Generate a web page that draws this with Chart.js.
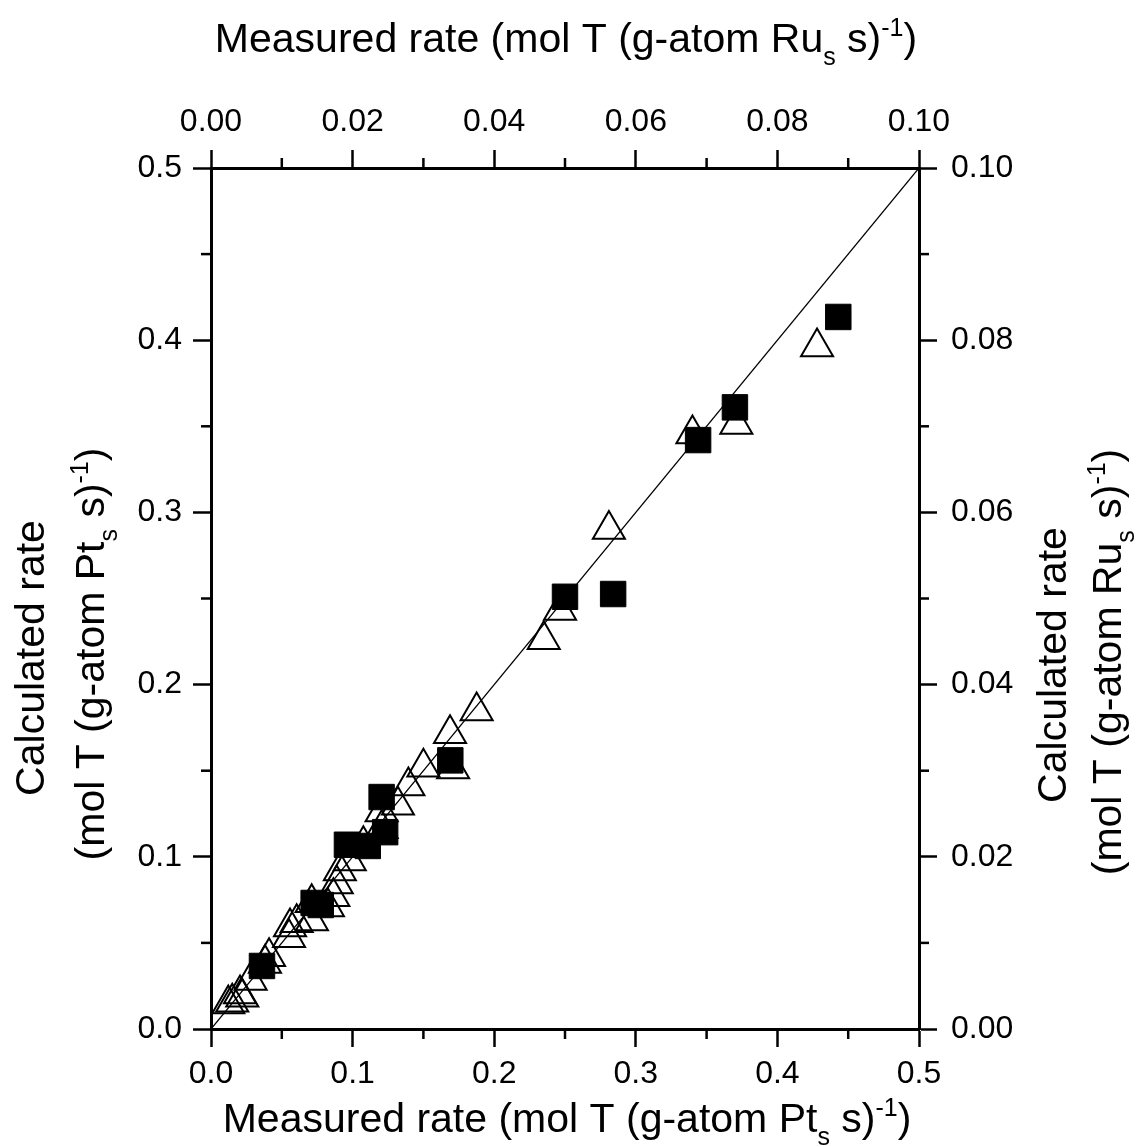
<!DOCTYPE html>
<html>
<head>
<meta charset="utf-8">
<script src="https://cdn.jsdelivr.net/npm/chart.js@4.4.1/dist/chart.umd.min.js"></script>
<style>
  html, body { margin: 0; padding: 0; background: #fff; }
  #wrap { width: 1142px; height: 1147px; position: relative; }
</style>
</head>
<body>
<div id="wrap"><canvas id="parity"></canvas></div>
<script>
// open triangles
const triMeasured = [0.428, 0.371, 0.340, 0.281, 0.2465, 0.235, 0.1876, 0.1688, 0.150, 0.171,
    0.1394, 0.132, 0.1205, 0.1205, 0.1076, 0.098, 0.091, 0.0888, 0.0864, 0.0826,
    0.0711, 0.0713, 0.0605, 0.0558, 0.0551, 0.0381, 0.041, 0.028, 0.0205, 0.0221,
    0.015, 0.0122];
const triCalculated = [0.396, 0.351, 0.3455, 0.290, 0.243, 0.226, 0.1847, 0.1715, 0.152, 0.151,
    0.1411, 0.130, 0.126, 0.1163, 0.107, 0.0976, 0.0918, 0.0842, 0.0768, 0.0708,
    0.0733, 0.0627, 0.0617, 0.0592, 0.053, 0.0381, 0.042, 0.0281, 0.0203, 0.0184,
    0.0155, 0.0145];

// filled squares
const sqMeasured = [0.443, 0.370, 0.344, 0.250, 0.284, 0.169, 0.1205, 0.096, 0.1107, 0.123,
    0.0725, 0.0775, 0.036];
const sqCalculated = [0.4135, 0.361, 0.342, 0.251, 0.2526, 0.156, 0.1347, 0.107, 0.1063, 0.1143,
    0.0732, 0.072, 0.0366];

// parity line
const parityLine = [0, 0.5];

const FONT = "'Liberation Sans', Arial, sans-serif";
const TICK_SIZE = 32;
const TITLE_SIZE = 41;
const MAJOR = 18;
const MINOR = 10;

const toPoints = (xs, ys) => xs.map((x, i) => ({ x: x, y: ys[i] }));

function richWidth(ctx, parts, size) {
    let w = 0;
    parts.forEach(p => {
        ctx.font = Math.round((p.sub || p.sup) ? size * 0.6 : size) + 'px ' + FONT;
        w += ctx.measureText(p.t).width;
    });
    return w;
}

// draws text with sub/superscripts, centred on (0, 0) baseline
function drawRich(ctx, parts, size) {
    let x = -richWidth(ctx, parts, size) / 2;
    ctx.textAlign = 'left';
    ctx.textBaseline = 'alphabetic';
    parts.forEach(p => {
        ctx.font = Math.round((p.sub || p.sup) ? size * 0.6 : size) + 'px ' + FONT;
        const dy = p.sub ? size * 0.32 : p.sup ? -size * 0.4 : 0;
        ctx.fillText(p.t, x, dy);
        x += ctx.measureText(p.t).width;
    });
}

const unitPt = [{ t: '(mol T (g-atom Pt' }, { t: 's', sub: true }, { t: ' s)' }, { t: '-1', sup: true }, { t: ')' }];
const unitRu = [{ t: '(mol T (g-atom Ru' }, { t: 's', sub: true }, { t: ' s)' }, { t: '-1', sup: true }, { t: ')' }];

const titles = [
    { parts: [{ t: 'Measured rate ' }].concat(unitRu), x: 566, y: 52, rot: 0 },
    { parts: [{ t: 'Measured rate ' }].concat(unitPt), x: 567, y: 1132, rot: 0 },
    { parts: [{ t: 'Calculated rate' }], x: 44, y: 658, rot: -Math.PI / 2 },
    { parts: unitPt, x: 104, y: 654, rot: -Math.PI / 2 },
    { parts: [{ t: 'Calculated rate' }], x: 1066, y: 665, rot: -Math.PI / 2 },
    { parts: unitRu, x: 1121, y: 662, rot: -Math.PI / 2 }
];

const axisDecor = {
    id: 'axisDecor',
    afterDraw(chart) {
        const ctx = chart.ctx;
        const area = chart.chartArea;
        ctx.save();
        ctx.strokeStyle = '#000';
        ctx.lineWidth = 2.5;
        // minor ticks half way between major ones
        ['x', 'x2', 'y', 'y2'].forEach(id => {
            const s = chart.scales[id];
            const t = s.ticks;
            for (let i = 0; i < t.length - 1; i++) {
                const p = s.getPixelForValue((t[i].value + t[i + 1].value) / 2);
                ctx.beginPath();
                if (id === 'x') { ctx.moveTo(p, area.bottom); ctx.lineTo(p, area.bottom + MINOR); }
                if (id === 'x2') { ctx.moveTo(p, area.top); ctx.lineTo(p, area.top - MINOR); }
                if (id === 'y') { ctx.moveTo(area.left, p); ctx.lineTo(area.left - MINOR, p); }
                if (id === 'y2') { ctx.moveTo(area.right, p); ctx.lineTo(area.right + MINOR, p); }
                ctx.stroke();
            }
        });
        ctx.fillStyle = '#000';
        titles.forEach(tt => {
            ctx.save();
            ctx.translate(tt.x, tt.y);
            ctx.rotate(tt.rot);
            drawRich(ctx, tt.parts, TITLE_SIZE);
            ctx.restore();
        });
        ctx.restore();
    }
};

function axis(position, max, step, digits, size, pad) {
    const horizontal = position === 'top' || position === 'bottom';
    return {
        type: 'linear',
        position: position,
        min: 0,
        max: max,
        ticks: {
            stepSize: step,
            color: '#000',
            font: { family: FONT, size: TICK_SIZE },
            padding: pad,
            maxRotation: 0,
            callback: v => v.toFixed(digits)
        },
        grid: { drawOnChartArea: false, drawTicks: true, tickLength: MAJOR, tickWidth: 2.5, color: '#000' },
        border: { display: true, width: 3, color: '#000' },
        title: { display: false },
        afterFit(s) {
            if (horizontal) s.height = size; else s.width = size;
        }
    };
}

new Chart(document.getElementById('parity'), {
    type: 'scatter',
    data: {
        datasets: [
            {
                label: 'squares',
                data: toPoints(sqMeasured, sqCalculated),
                pointStyle: 'rect',
                pointRadius: 18,
                backgroundColor: '#000',
                borderColor: '#000',
                borderWidth: 1
            },
            {
                type: 'line',
                label: 'parity',
                data: toPoints(parityLine, parityLine),
                borderColor: '#000',
                borderWidth: 1.3,
                pointRadius: 0,
                fill: false
            },
            {
                label: 'triangles',
                data: toPoints(triMeasured, triCalculated),
                pointStyle: 'triangle',
                pointRadius: 18.5,
                backgroundColor: 'rgba(0,0,0,0)',
                borderColor: '#000',
                borderWidth: 2
            }
        ]
    },
    options: {
        responsive: true,
        maintainAspectRatio: false,
        animation: false,
        layout: { padding: 0 },
        plugins: {
            legend: { display: false },
            tooltip: { enabled: false }
        },
        scales: {
            x: axis('bottom', 0.5, 0.1, 1, 118, 8),
            x2: axis('top', 0.1, 0.02, 2, 168, 9),
            y: axis('left', 0.5, 0.1, 1, 211, 11),
            y2: axis('right', 0.1, 0.02, 2, 223, 14)
        }
    },
    plugins: [axisDecor]
});
</script>
</body>
</html>
